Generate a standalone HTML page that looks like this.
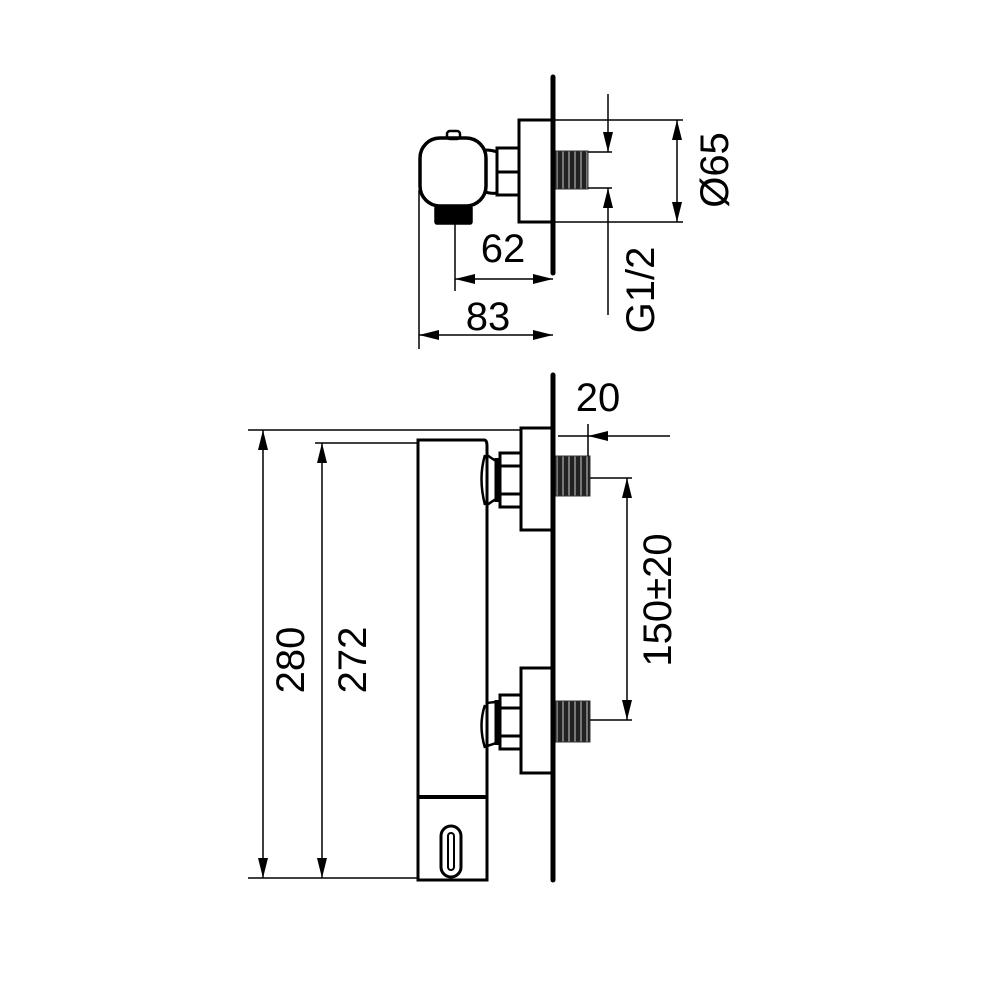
<!DOCTYPE html>
<html><head><style>body{margin:0;background:#fff}svg{display:block}</style></head><body>
<svg width="1000" height="1000" viewBox="0 0 1000 1000" xmlns="http://www.w3.org/2000/svg">
<defs>
<marker id="a" viewBox="0 0 20 10" refX="20" refY="5" markerWidth="20" markerHeight="10" markerUnits="userSpaceOnUse" orient="auto-start-reverse"><path d="M0,0L20,5L0,10z" fill="#000"/></marker>
<pattern id="th" width="6" height="40" patternUnits="userSpaceOnUse"><rect width="6" height="40" fill="#777"/><rect x="0" width="4" height="40" fill="#222"/></pattern>
</defs>
<g fill="none" stroke="#000" stroke-width="1.5">
<!-- TOP VIEW -->
<line x1="553" y1="77" x2="553" y2="273" stroke-width="5" stroke-linecap="round"/>
<rect x="519" y="120" width="34" height="102" stroke-width="3"/>
<rect x="497" y="148" width="22" height="47" stroke-width="3"/>
<line x1="497" y1="172" x2="519" y2="172" stroke-width="3"/>
<path d="M485,150 Q492,150 497,152 M485,192 Q492,194 497,193" stroke-width="3"/>
<rect x="420" y="138" width="66" height="68" rx="20" stroke-width="3.5"/>
<rect x="447" y="131" width="13" height="8" rx="3" stroke-width="2.5"/>
<rect x="435" y="206" width="37" height="18" fill="#000" rx="2"/>
<rect x="556" y="151" width="32" height="38" fill="url(#th)" stroke="#333" stroke-width="1"/>
<line x1="553" y1="120" x2="683" y2="120"/>
<line x1="553" y1="222" x2="683" y2="222"/>
<line x1="677" y1="120" x2="677" y2="222" marker-start="url(#a)" marker-end="url(#a)"/>
<line x1="588" y1="152" x2="612" y2="152"/>
<line x1="588" y1="188" x2="612" y2="188"/>
<line x1="608" y1="94" x2="608" y2="152" marker-end="url(#a)"/>
<line x1="608" y1="315" x2="608" y2="188" marker-end="url(#a)"/>
<line x1="455" y1="224" x2="455" y2="291"/>
<line x1="455" y1="279" x2="553" y2="279" marker-start="url(#a)" marker-end="url(#a)"/>
<line x1="419" y1="190" x2="419" y2="349"/>
<line x1="419" y1="335" x2="553" y2="335" marker-start="url(#a)" marker-end="url(#a)"/>
<!-- BOTTOM VIEW -->
<line x1="553" y1="375" x2="553" y2="880" stroke-width="5" stroke-linecap="round"/>
<rect x="521" y="428" width="32" height="102" stroke-width="3"/>
<rect x="521" y="668" width="32" height="105" stroke-width="3"/>
<rect x="500" y="453" width="21" height="54" stroke-width="3"/>
<line x1="500" y1="466" x2="521" y2="466" stroke-width="3"/><line x1="500" y1="494" x2="521" y2="494" stroke-width="3"/>
<rect x="500" y="695" width="21" height="54" stroke-width="3"/>
<line x1="500" y1="708" x2="521" y2="708" stroke-width="3"/><line x1="500" y1="736" x2="521" y2="736" stroke-width="3"/>
<line x1="497" y1="458" x2="497" y2="502" stroke-width="5"/>
<line x1="497" y1="700" x2="497" y2="745" stroke-width="5"/>
<path d="M418,880 L418,440 L484,440 Q487,440 487,446 L487,880 Z" stroke-width="3"/>
<path d="M485,455 Q478,478 485,505 M485,705 Q478,725 485,748" stroke-width="2.5"/>
<path d="M487,455 Q494,460 498,462 M487,505 Q494,500 498,498 M487,703 Q494,702 498,702 M487,746 Q494,744 498,742" stroke-width="2.5"/>
<line x1="418" y1="797" x2="487" y2="797" stroke-width="4"/>
<rect x="441" y="826" width="20" height="51" rx="10" stroke-width="3"/>
<rect x="448" y="833" width="6" height="37" rx="3" stroke-width="2"/>
<rect x="556" y="456" width="34" height="40" fill="url(#th)" stroke="#333" stroke-width="1"/>
<rect x="556" y="701" width="34" height="41" fill="url(#th)" stroke="#333" stroke-width="1"/>
<line x1="248" y1="430" x2="521" y2="430"/>
<line x1="248" y1="878" x2="418" y2="878"/>
<line x1="263" y1="430" x2="263" y2="878" marker-start="url(#a)" marker-end="url(#a)"/>
<line x1="315" y1="443" x2="418" y2="443"/>
<line x1="322" y1="443" x2="322" y2="878" marker-start="url(#a)" marker-end="url(#a)"/>
<line x1="588" y1="424" x2="588" y2="456"/>
<line x1="558" y1="436" x2="588" y2="436"/>
<line x1="670" y1="436" x2="588" y2="436" marker-end="url(#a)"/>
<line x1="590" y1="478" x2="632" y2="478"/>
<line x1="590" y1="720" x2="632" y2="720"/>
<line x1="627" y1="478" x2="627" y2="720" marker-start="url(#a)" marker-end="url(#a)"/>
</g>
<g font-family="Liberation Sans, sans-serif" font-size="40" fill="#000" text-anchor="middle">
<text x="503" y="262">62</text>
<text x="488" y="330">83</text>
<text x="598" y="411">20</text>
<text transform="translate(728,170) rotate(-90)">Ø65</text>
<text transform="translate(654,290) rotate(-90)">G1/2</text>
<text transform="translate(304,660) rotate(-90)">280</text>
<text transform="translate(366,660) rotate(-90)">272</text>
<text transform="translate(671,600) rotate(-90)">150±20</text>
</g>
</svg>
</body></html>
